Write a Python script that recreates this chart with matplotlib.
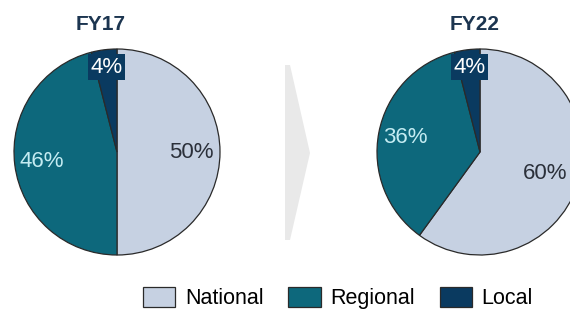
import matplotlib.pyplot as plt
import numpy as np
from matplotlib.patches import Polygon

plt.rcParams['font.family'] = ['Liberation Sans', 'DejaVu Sans']

# shares by segment, clockwise from 12 o'clock
years = ["FY17", "FY22"]
segments = ["National", "Regional", "Local"]
share_fy17 = [50, 46, 4]
share_fy22 = [60, 36, 4]

colors = ["#C6D1E2", "#0D687C", "#0A3A60"]
text_colors = ["#2B303A", "#C4ECF2", "#FFFFFF"]
label_dist = [[0.72, 0.74, 0.83], [0.665, 0.74, 0.83]]

W, H = 570, 311
fig = plt.figure(figsize=(W / 100, H / 100), dpi=100)

R = 103  # pie radius in pixels
centers = [(117, 152), (480, 152)]
title_x = [101, 475]

wedges_first = None
for (cx, cy), tx, year, shares, dists in zip(centers, title_x, years,
                                             [share_fy17, share_fy22], label_dist):
    ax = fig.add_axes([(cx - R) / W, (H - cy - R) / H, 2 * R / W, 2 * R / H])
    wedges, _ = ax.pie(shares, colors=colors, startangle=90, counterclock=False,
                       wedgeprops=dict(edgecolor="#2A2A2A", linewidth=0.9))
    ax.set_xlim(-1, 1)
    ax.set_ylim(-1, 1)
    if wedges_first is None:
        wedges_first = wedges

    for w, val, tc, d in zip(wedges, shares, text_colors, dists):
        ang = np.radians((w.theta1 + w.theta2) / 2)
        x, y = d * np.cos(ang), d * np.sin(ang)
        kw = {}
        if val == 4:
            kw["bbox"] = dict(boxstyle="square,pad=0.12", facecolor=colors[2], edgecolor="none")
        ax.text(x, y, f"{val}%", ha="center", va="center", fontsize=16, color=tc, **kw)

    fig.text(tx / W, 1 - 25 / H, year, ha="center", va="center", fontsize=15,
             fontweight="bold", color="#1C3550")

# light grey chevron between the two pies
chev = [(285, 65), (290, 65), (310, 153), (290, 240), (285, 240)]
fig.patches.append(Polygon([(x / W, 1 - y / H) for x, y in chev], closed=True,
                           facecolor="#E9E9E9", edgecolor="none",
                           transform=fig.transFigure, figure=fig))

fig.legend(wedges_first, segments, loc="center left", bbox_to_anchor=(143 / W, 1 - 298 / H),
           ncol=3, frameon=False, fontsize=15.5, handlelength=1.5, handleheight=1.05,
           handletextpad=0.45, columnspacing=1.15, borderpad=0, borderaxespad=0)

fig.savefig("out.png", dpi=100)
